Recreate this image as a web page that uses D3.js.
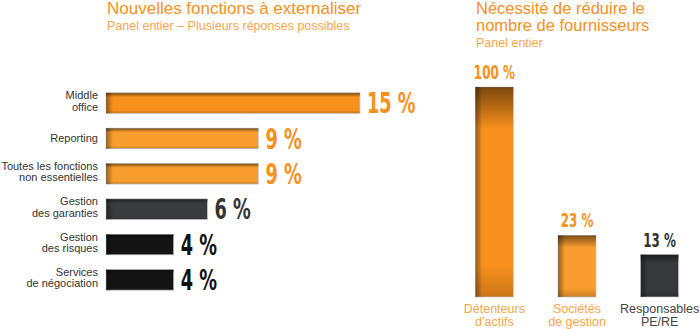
<!DOCTYPE html>
<html>
<head>
<meta charset="utf-8">
<script src="https://cdn.jsdelivr.net/npm/d3@7"></script>
<style>
  body { margin: 0; background: #fff; }
  svg { display: block; }
  .lbl { font-family: "Liberation Sans", Arial, sans-serif; }
  .big { font-family: "DejaVu Sans Condensed", "Liberation Sans Narrow", "Arial Narrow", sans-serif; font-weight: bold; }
</style>
</head>
<body>
<svg id="chart" width="700" height="329"></svg>
<script>
// --- data: nouvelles fonctions à externaliser (panel entier)
const fonctions = [
    ['Middle', 'office'],
    ['Reporting'],
    ['Toutes les fonctions', 'non essentielles'],
    ['Gestion', 'des garanties'],
    ['Gestion', 'des risques'],
    ['Services', 'de négociation'],
];
const fonctionsValues = [15, 9, 9, 6, 4, 4];

// --- data: nécessité de réduire le nombre de fournisseurs
const profils = [['Détenteurs', 'd\u2019actifs'], ['Sociétés', 'de gestion'], ['Responsables', 'PE/RE']];
const profilsValues = [100, 23, 13];

// colours (kept apart from the values)
const leftFill = ['#f7901c', '#f99d2e', '#f99d2e', '#3a3b3e', '#141414', '#141414'];
const leftText = ['#f7901c', '#f7901c', '#f7901c', '#333333', '#111111', '#111111'];
const rightFill = ['#f7901c', '#f99d2e', '#37383b'];
const rightText = ['#f7901c', '#f7901c', '#333333'];
const rightCat = ['#f9a54a', '#f9a54a', '#444444'];

const svg = d3.select('#chart');
const defs = svg.append('defs');

// shading used on top of each bar (dark top edge, dark left edge)
const gv = defs.append('linearGradient').attr('id', 'shadeV').attr('x1', 0).attr('y1', 0).attr('x2', 0).attr('y2', 1);
[[0, 0.5], [0.2, 0], [0.85, 0], [1, 0.18]].forEach(([o, a]) => {
    gv.append('stop').attr('offset', o).attr('stop-color', '#000').attr('stop-opacity', a);
});
const gh = defs.append('linearGradient').attr('id', 'shadeH').attr('x1', 0).attr('y1', 0).attr('x2', 1).attr('y2', 0);
[[0, 0.4], [1, 0]].forEach(([o, a]) => {
    gh.append('stop').attr('offset', o).attr('stop-color', '#000').attr('stop-opacity', a);
});
const ga = defs.append('linearGradient').attr('id', 'axisFade').attr('x1', 0).attr('y1', 0).attr('x2', 0).attr('y2', 1);
ga.append('stop').attr('offset', 0).attr('stop-color', '#fff');
ga.append('stop').attr('offset', 0.12).attr('stop-color', '#8a8a8a');
ga.append('stop').attr('offset', 1).attr('stop-color', '#7a7a7a');

function shadedBar(g, x, y, w, h, fill) {
    g.append('rect').attr('x', x).attr('y', y).attr('width', w).attr('height', h)
        .attr('fill', fill).attr('stroke', '#d0d0d0').attr('stroke-width', 0.8);
    g.append('rect').attr('x', x).attr('y', y).attr('width', w).attr('height', h).attr('fill', 'url(#shadeV)');
    g.append('rect').attr('x', x).attr('y', y).attr('width', Math.min(7, w)).attr('height', h).attr('fill', 'url(#shadeH)');
}

/* ---------- left chart ---------- */
svg.append('text').attr('class', 'lbl').attr('x', 107).attr('y', 14)
    .attr('font-size', 17).attr('fill', '#f7901c').text('Nouvelles fonctions à externaliser');
svg.append('text').attr('class', 'lbl').attr('x', 107).attr('y', 30)
    .attr('font-size', 12.5).attr('fill', '#f9a54a').text('Panel entier \u2013 Plusieurs réponses possibles');

const yL = d3.scaleBand().domain(d3.range(fonctions.length)).range([78, 305]).padding(0.42);
const xL = d3.scaleLinear().domain([0, 15]).range([106, 360]);

svg.append('line').attr('x1', 105).attr('x2', 105).attr('y1', 58).attr('y2', 299)
    .attr('stroke', 'url(#axisFade)').attr('stroke-width', 2);

const left = svg.append('g');
fonctions.forEach((lines, i) => {
    const y = yL(i), h = yL.bandwidth(), c = y + h / 2;
    shadedBar(left, xL(0), y, xL(fonctionsValues[i]) - xL(0), h, leftFill[i]);

    const t = left.append('text').attr('class', 'lbl').attr('text-anchor', 'end')
        .attr('font-size', 11).attr('fill', '#333');
    const first = lines.length === 1 ? c + 4 : c - 4;
    lines.forEach((s, k) => t.append('tspan').attr('x', 98).attr('y', first + k * 11.5).text(s));

    left.append('text').attr('class', 'big')
        .attr('transform', `translate(${xL(fonctionsValues[i]) + 7},${y + h}) scale(0.68,1)`)
        .attr('font-size', 29).attr('fill', leftText[i]).text(`${fonctionsValues[i]} %`);
});

/* ---------- right chart ---------- */
svg.append('text').attr('class', 'lbl').attr('font-size', 16.5).attr('fill', '#f7901c')
    .selectAll('tspan').data(['Nécessité de réduire le', 'nombre de fournisseurs']).join('tspan')
    .attr('x', 476).attr('y', (d, i) => 14 + i * 16.5).text(d => d);
svg.append('text').attr('class', 'lbl').attr('x', 476).attr('y', 47)
    .attr('font-size', 12.5).attr('fill', '#f9a54a').text('Panel entier');

const xR = d3.scaleBand().domain(d3.range(profils.length)).range([453, 701]).paddingInner(0.54).paddingOuter(0.27);
// the original bars sit on an offset baseline: the scale starts below zero
const yR = d3.scaleLinear().domain([-9, 100]).range([297, 87]);

const right = svg.append('g');
profils.forEach((lines, i) => {
    const x = xR(i), w = xR.bandwidth(), c = x + w / 2;
    shadedBar(right, x, yR(profilsValues[i]), w, yR(-9) - yR(profilsValues[i]), rightFill[i]);

    right.append('text').attr('class', 'big').attr('text-anchor', 'middle')
        .attr('transform', `translate(${c},${yR(profilsValues[i]) - 8}) scale(0.68,1)`)
        .attr('font-size', 19.5).attr('fill', rightText[i]).text(`${profilsValues[i]} %`);

    const t = right.append('text').attr('class', 'lbl').attr('text-anchor', 'middle')
        .attr('font-size', 12.5).attr('fill', rightCat[i]);
    lines.forEach((s, k) => t.append('tspan').attr('x', c).attr('y', 313 + k * 13).text(s));
});
</script>
</body>
</html>
